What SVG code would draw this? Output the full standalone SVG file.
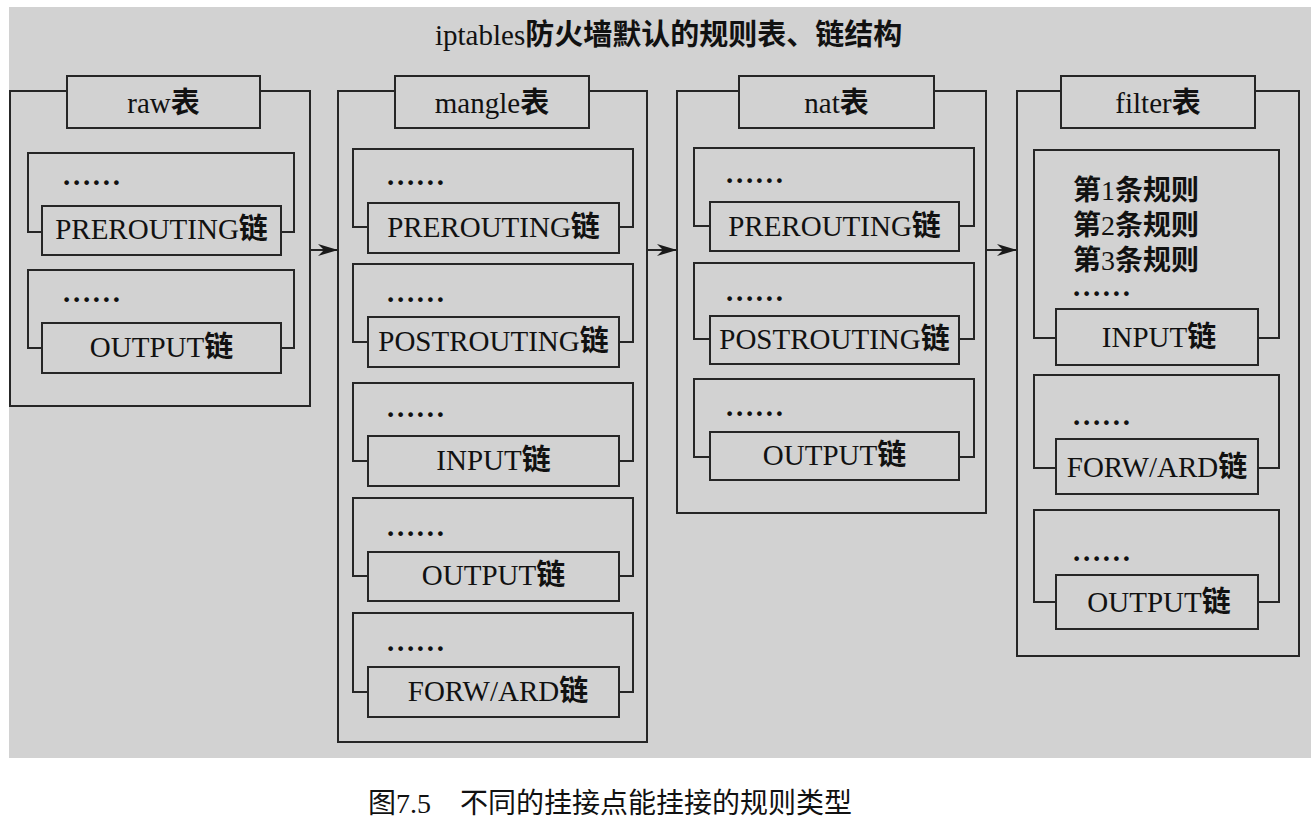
<svg xmlns="http://www.w3.org/2000/svg" width="1315" height="828" viewBox="0 0 1315 828">
<style>
.ln{fill:none;stroke:#262626;stroke-width:2}
.bx{fill:#d2d2d2;stroke:#262626;stroke-width:2}
.t{font-family:"Liberation Serif","Noto Sans CJK SC",serif;font-size:29px;fill:#111}
.r{font-family:"Liberation Serif","Noto Sans CJK SC",serif;font-size:28px;fill:#111}
.c{text-anchor:middle}
.cj{font-family:"Noto Sans CJK SC",sans-serif;font-weight:700}
.dots{font-family:"Liberation Serif",serif;font-size:29px;font-weight:700;letter-spacing:2.7px;fill:#111}
.cap{font-family:"Liberation Serif","Noto Sans CJK SC",serif;font-size:28px;fill:#111}
.capcj{font-family:"Noto Sans CJK SC",sans-serif;font-weight:400}
</style>
<defs>
<marker id="arr" markerUnits="userSpaceOnUse" markerWidth="22" markerHeight="14" refX="20" refY="6" orient="auto">
<path d="M0,0 L20,6 L0,12 L6,6 z" fill="#1a1a1a"/>
</marker>
</defs>
<rect x="0" y="0" width="1315" height="828" fill="#ffffff"/>
<rect x="9" y="7" width="1302" height="751" fill="#d2d2d2"/>
<text class="t" x="435" y="45">iptables<tspan class="cj">防火墙默认的规则表、链结构</tspan></text>

<g id="connectors">
<line class="ln" x1="310" y1="250" x2="338" y2="250" marker-end="url(#arr)"/>
<line class="ln" x1="647" y1="250" x2="677" y2="250" marker-end="url(#arr)"/>
<line class="ln" x1="986" y1="250" x2="1017" y2="250" marker-end="url(#arr)"/>
</g>

<g id="raw-table">
<rect class="ln" x="10" y="91" width="300" height="315"/>
<rect class="bx" x="67" y="76" width="193" height="52"/>
<text class="t c" x="163.5" y="113">raw<tspan class="cj">表</tspan></text>
<g id="raw-prerouting">
<path class="ln" d="M42,232 H28 V153 H294 V232 H281"/>
<text class="dots" x="63" y="185">......</text>
<rect class="bx" x="42" y="206" width="239" height="49"/>
<text class="t c" x="161.5" y="239">PREROUTING<tspan class="cj">链</tspan></text>
</g>
<g id="raw-output">
<path class="ln" d="M42,348 H28 V270 H294 V348 H281"/>
<text class="dots" x="63" y="302">......</text>
<rect class="bx" x="42" y="323" width="239" height="50"/>
<text class="t c" x="161.5" y="357">OUTPUT<tspan class="cj">链</tspan></text>
</g>
</g>

<g id="mangle-table">
<rect class="ln" x="338" y="91" width="309" height="651"/>
<rect class="bx" x="395" y="76" width="194" height="52"/>
<text class="t c" x="492" y="113">mangle<tspan class="cj">表</tspan></text>
<g id="mangle-prerouting">
<path class="ln" d="M368,227 H353 V149 H633 V227 H619"/>
<text class="dots" x="387" y="185">......</text>
<rect class="bx" x="368" y="203" width="251" height="50"/>
<text class="t c" x="493.5" y="237">PREROUTING<tspan class="cj">链</tspan></text>
</g>
<g id="mangle-postrouting">
<path class="ln" d="M368,342 H353 V264 H633 V342 H619"/>
<text class="dots" x="387" y="302">......</text>
<rect class="bx" x="368" y="317" width="251" height="50"/>
<text class="t c" x="493.5" y="351">POSTROUTING<tspan class="cj">链</tspan></text>
</g>
<g id="mangle-input">
<path class="ln" d="M368,461 H353 V383 H633 V461 H619"/>
<text class="dots" x="387" y="417">......</text>
<rect class="bx" x="368" y="436" width="251" height="50"/>
<text class="t c" x="493.5" y="470">INPUT<tspan class="cj">链</tspan></text>
</g>
<g id="mangle-output">
<path class="ln" d="M368,576 H353 V498 H633 V576 H619"/>
<text class="dots" x="387" y="536">......</text>
<rect class="bx" x="368" y="552" width="251" height="49"/>
<text class="t c" x="493.5" y="585">OUTPUT<tspan class="cj">链</tspan></text>
</g>
<g id="mangle-forward">
<path class="ln" d="M368,692 H353 V613 H633 V692 H619"/>
<text class="dots" x="387" y="651">......</text>
<rect class="bx" x="368" y="667" width="251" height="50"/>
<text class="t c" x="498" y="701">FORW/ARD<tspan class="cj">链</tspan></text>
</g>
</g>

<g id="nat-table">
<rect class="ln" x="677" y="91" width="309" height="422"/>
<rect class="bx" x="739" y="76" width="195" height="52"/>
<text class="t c" x="836.5" y="113">nat<tspan class="cj">表</tspan></text>
<g id="nat-prerouting">
<path class="ln" d="M710,226 H694 V148 H974 V226 H959"/>
<text class="dots" x="726" y="183">......</text>
<rect class="bx" x="710" y="202" width="249" height="49"/>
<text class="t c" x="834.5" y="236">PREROUTING<tspan class="cj">链</tspan></text>
</g>
<g id="nat-postrouting">
<path class="ln" d="M710,339 H694 V263 H974 V339 H959"/>
<text class="dots" x="726" y="301">......</text>
<rect class="bx" x="710" y="316" width="249" height="48"/>
<text class="t c" x="834.5" y="349">POSTROUTING<tspan class="cj">链</tspan></text>
</g>
<g id="nat-output">
<path class="ln" d="M710,457 H694 V379 H974 V457 H959"/>
<text class="dots" x="726" y="416">......</text>
<rect class="bx" x="710" y="432" width="249" height="48"/>
<text class="t c" x="834.5" y="465">OUTPUT<tspan class="cj">链</tspan></text>
</g>
</g>

<g id="filter-table">
<rect class="ln" x="1017" y="91" width="282" height="565"/>
<rect class="bx" x="1061" y="76" width="194" height="52"/>
<text class="t c" x="1158" y="113">filter<tspan class="cj">表</tspan></text>
<g id="filter-input">
<path class="ln" d="M1056,338 H1034 V150 H1279 V338 H1258"/>
<text class="r" x="1073" y="200"><tspan class="cj">第</tspan>1<tspan class="cj">条规则</tspan><tspan x="1073" dy="35" class="cj">第</tspan>2<tspan class="cj">条规则</tspan><tspan x="1073" dy="35" class="cj">第</tspan>3<tspan class="cj">条规则</tspan></text>
<text class="dots" x="1073" y="296">......</text>
<rect class="bx" x="1056" y="309" width="202" height="56"/>
<text class="t c" x="1159" y="347">INPUT<tspan class="cj">链</tspan></text>
</g>
<g id="filter-forward">
<path class="ln" d="M1056,468 H1034 V375 H1279 V468 H1258"/>
<text class="dots" x="1073" y="425">......</text>
<rect class="bx" x="1056" y="439" width="202" height="55"/>
<text class="t c" x="1157" y="477">FORW/ARD<tspan class="cj">链</tspan></text>
</g>
<g id="filter-output">
<path class="ln" d="M1056,602 H1034 V510 H1279 V602 H1258"/>
<text class="dots" x="1073" y="561">......</text>
<rect class="bx" x="1056" y="575" width="202" height="54"/>
<text class="t c" x="1159" y="612">OUTPUT<tspan class="cj">链</tspan></text>
</g>
</g>

<text class="cap" x="368" y="813"><tspan class="capcj">图</tspan>7.5<tspan class="capcj" x="460">不同的挂接点能挂接的规则类型</tspan></text>
</svg>
